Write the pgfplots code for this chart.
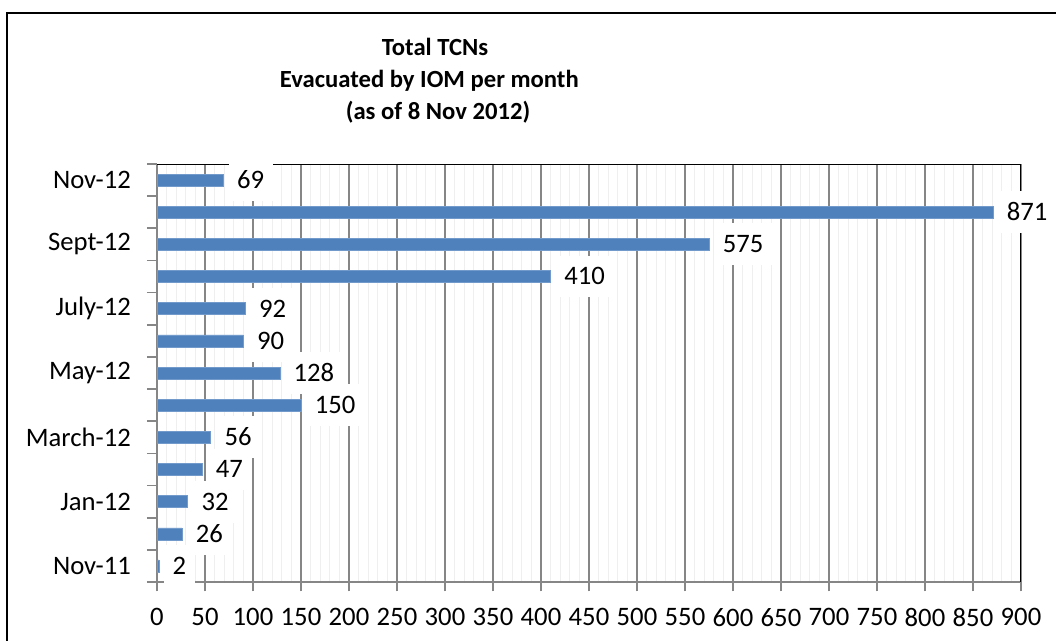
\documentclass[border=0pt]{standalone}
\usepackage{pgfplots}
\pgfplotsset{compat=1.18}
\usepackage{fontspec}
\setmainfont{Carlito}
\definecolor{barblue}{HTML}{4F81BD}
\definecolor{gridgray}{HTML}{868686}
\definecolor{minorgray}{HTML}{EFEFEF}
\begin{document}
\begin{tikzpicture}
\path[use as bounding box] (0pt,0pt) rectangle (792pt,480pt);
\draw[line width=2pt, black] (5.25pt,-5pt) -- (5.25pt,470.25pt) -- (800pt,470.25pt);
\node[anchor=base, font=\fontsize{18.5}{22}\selectfont\bfseries] at (326.25pt,438pt) {Total TCNs};
\node[anchor=base, font=\fontsize{18.5}{22}\selectfont\bfseries] at (322pt,414pt) {Evacuated by IOM per month};
\node[anchor=base, font=\fontsize{18.5}{22}\selectfont\bfseries] at (328.5pt,390pt) {(as of 8 Nov 2012)};
\begin{axis}[
  at={(117.75pt,43.5pt)}, anchor=south west,
  scale only axis, width=648pt, height=313.5pt,
  xbar, bar width=9pt,
  xmin=0, xmax=900, ymin=-0.5, ymax=12.5,
  xtick={0,50,...,900}, minor x tick num=4,
  xmajorgrids, xminorgrids,
  major x grid style={color=gridgray, line width=1.3pt},
  minor x grid style={color=minorgray, line width=0.5pt},
  ytick={0,...,12},
  yticklabels={Nov-11,,Jan-12,,March-12,,May-12,,July-12,,Sept-12,,Nov-12},
  minor ytick={-0.5,0.5,...,12.5},
  xtick pos=bottom, ytick pos=left,
  axis line style={draw=none},
  tick align=outside,
  major tick length=7pt, minor tick length=7.5pt,
  major x tick style={draw=gridgray, line width=1.3pt},
  minor x tick style={draw=none},
  major y tick style={draw=none},
  minor y tick style={draw=gridgray, line width=1.3pt},
  /pgf/number format/assume math mode=true,
  tick label style={font=\fontsize{20}{24}\selectfont, text=black},
  yticklabel style={xshift=-9.1pt},
  xticklabel style={yshift=-9pt},
  nodes near coords,
  every node near coord/.append style={anchor=west, fill=white, text=black,
     font=\fontsize{20}{24}\selectfont, inner xsep=6.4pt, inner ysep=9.4pt,
     text height=12.6pt, text depth=0pt, xshift=3.75pt},
]
\draw[gridgray, line width=1.3pt] (rel axis cs:0,1) -- (rel axis cs:0,0) -- (rel axis cs:1,0);
\draw[black, line width=1.3pt] (rel axis cs:0,1) -- (rel axis cs:1,1) -- (rel axis cs:1,0);
\addplot[fill=barblue, draw=barblue!80!white] coordinates {
(2,0) (26,1) (32,2) (47,3) (56,4) (150,5) (128,6) (90,7) (92,8) (410,9) (575,10) (871,11) (69,12)
};
\end{axis}
\end{tikzpicture}
\end{document}
